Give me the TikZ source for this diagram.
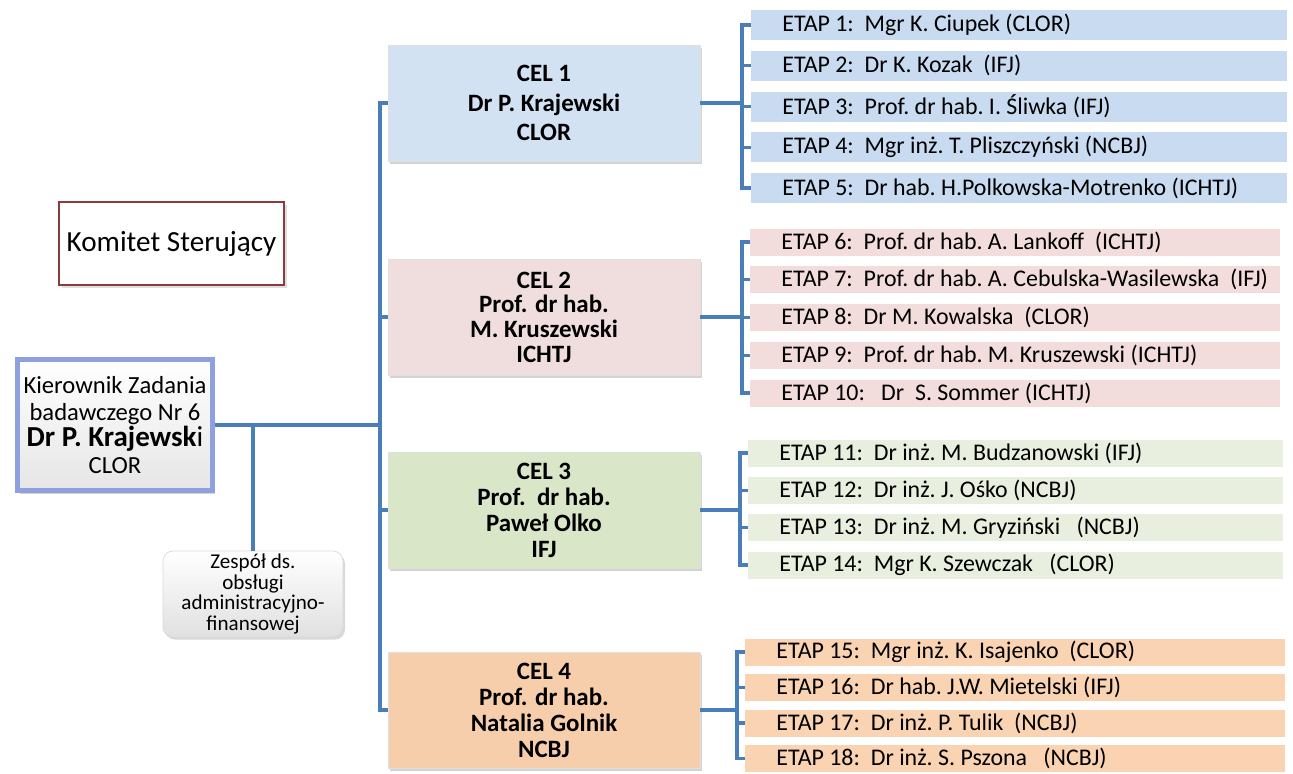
\documentclass[tikz,border=0pt]{standalone}
\usepackage{fontspec}
\setmainfont{Carlito}
\usepackage{tikz}
\usetikzlibrary{shadows}
\definecolor{linkblue}{RGB}{74,126,187}
\definecolor{celblue}{RGB}{210,226,243}
\definecolor{celpink}{RGB}{239,222,221}
\definecolor{celgreen}{RGB}{217,230,199}
\definecolor{celorange}{RGB}{247,206,172}
\definecolor{barblue}{RGB}{200,219,240}
\definecolor{barpink}{RGB}{242,221,220}
\definecolor{bargreen}{RGB}{232,239,222}
\definecolor{barorange}{RGB}{250,211,178}
\definecolor{komred}{RGB}{140,58,62}
\definecolor{kierlav}{RGB}{142,160,224}
\newcommand{\celfont}[1]{\fontsize{14.2}{#1}\selectfont\bfseries}
\newcommand{\zespolfont}{\fontsize{12}{11.6}\selectfont}
\newcommand{\etapfont}{\fontsize{13.6}{15}\selectfont\frenchspacing}
\tikzstyle{link} = [draw, line width=2.3pt, color=linkblue]
\tikzstyle{bracket} = [draw, line width=1.8pt, color=linkblue]
\tikzstyle{celbox} = [draw=black!12, minimum width=6.24cm, minimum height=2.32cm, align=center, drop shadow={opacity=0.35,shadow xshift=0.04cm,shadow yshift=-0.06cm}]
\tikzstyle{etap} = [anchor=west, inner xsep=0.62cm, inner ysep=0pt, font=\etapfont]

\begin{document}
\begin{tikzpicture}

\useasboundingbox (0,0) rectangle (25.86,-15.46);

%%% %%%
% Kierownik, Komitet, Zespol
%%% %%%

\node[draw=komred,line width=1.5pt,fill=white,minimum width=4.5cm,minimum height=1.66cm,font=\fontsize{16.6}{18}\selectfont,drop shadow={opacity=0.25,shadow xshift=0.05cm,shadow yshift=-0.05cm}] at (3.43,-4.87) (KOMITET) {Komitet Sterujący};

\node[draw=kierlav,line width=2.6pt,top color=white,bottom color=black!10,minimum width=3.82cm,minimum height=2.62cm,align=center,font=\fontsize{14}{15.3}\selectfont,drop shadow={opacity=0.35,shadow xshift=0.05cm,shadow yshift=-0.07cm}] at (2.30,-8.50) (KIER)
{Kierownik Zadania\\badawczego Nr 6\\{\fontsize{16.5}{15.3}\selectfont\textbf{Dr P. Krajewsk}i}\\CLOR};

\node[draw=black!15,rounded corners=0.2cm,top color=white,bottom color=black!12,minimum width=3.6cm,minimum height=1.72cm,align=center,inner sep=1pt,font=\zespolfont,drop shadow={opacity=0.3,shadow xshift=0.04cm,shadow yshift=-0.05cm}] at (5.06,-11.88) (ZESPOL)
{Zespół ds.\\obsługi\\administracyjno-\\finansowej};


%%% %%%
% CEL 1-4
%%% %%%

\node[celbox,fill=celblue,font=\celfont{17}] at (10.88,-2.06) (CEL1) {CEL 1\\Dr P. Krajewski\\CLOR};
\node[celbox,fill=celpink,font=\celfont{14}] at (10.88,-6.34) (CEL2) {CEL 2\\Prof. dr hab.\\M. Kruszewski\\ICHTJ};
\node[celbox,fill=celgreen,font=\celfont{14.8}] at (10.88,-10.20) (CEL3) {CEL 3\\Prof.\ \ dr hab.\\Paweł Olko\\IFJ};
\node[celbox,fill=celorange,font=\celfont{14.8}] at (10.88,-14.20) (CEL4) {CEL 4\\Prof. dr hab.\\Natalia Golnik\\NCBJ};


%%% %%%
% ETAP 1-18
%%% %%%

\foreach \i/\who [count=\n] in
{1/Mgr K. Ciupek (CLOR),2/Dr K. Kozak\ \ (IFJ),3/Prof. dr hab. I. Śliwka (IFJ),4/Mgr inż. T. Pliszczyński (NCBJ),5/Dr hab. H.Polkowska-Motrenko (ICHTJ)}
\node[etap,fill=barblue,minimum height=0.6cm,yshift=-\n*0.815cm] at (15.02,0.315) (ETAP\i) {\makebox[9.48cm][l]{ETAP \i:\ \ \who}};

\foreach \i/\who [count=\n] in
{6/Prof. dr hab. A. Lankoff\ \ (ICHTJ),7/Prof. dr hab. A. Cebulska-Wasilewska\ \ (IFJ),8/Dr M. Kowalska\ \ (CLOR),9/Prof. dr hab. M. Kruszewski (ICHTJ),10/\ Dr\ \ S. Sommer (ICHTJ)}
\node[etap,fill=barpink,minimum height=0.54cm,yshift=-\n*0.755cm] at (15.0,-4.085) (ETAP\i) {\makebox[9.36cm][l]{ETAP \i:\ \ \who}};

\foreach \i/\who [count=\n] in
{11/Dr inż. M. Budzanowski (IFJ),12/Dr inż. J. Ośko (NCBJ),13/Dr inż. M. Gryziński\ \ \ (NCBJ),14/Mgr K. Szewczak\ \ \ (CLOR)}
\node[etap,fill=bargreen,minimum height=0.54cm,yshift=-\n*0.747cm] at (14.96,-8.313) (ETAP\i) {\makebox[9.46cm][l]{ETAP \i:\ \ \who}};

\foreach \i/\who [count=\n] in
{15/Mgr inż. K. Isajenko\ \ (CLOR),16/Dr hab. J.W. Mietelski (IFJ),17/Dr inż. P. Tulik\ \ (NCBJ),18/Dr inż. S. Pszona\ \ \ (NCBJ)}
\node[etap,fill=barorange,minimum height=0.54cm,yshift=-\n*0.71cm] at (14.90,-12.33) (ETAP\i) {\makebox[9.56cm][l]{ETAP \i:\ \ \who}};


%%%
% Connectors: trunk
%%%

\coordinate (TRUNK) at (7.6,0);

\draw [link] (CEL1.west) -- (CEL1.west -| TRUNK) -- (CEL4.west -| TRUNK) -- (CEL4.west);
\draw [link] (CEL2.west) -- (CEL2.west -| TRUNK);
\draw [link] (CEL3.west) -- (CEL3.west -| TRUNK);
\draw [link] (KIER.east) -- (KIER.east -| TRUNK);
\draw [link] (ZESPOL.north) -- (ZESPOL.north |- KIER.east);


%%%
% Connectors: brackets
%%%

\coordinate (BR1) at (14.84,0);
\coordinate (BR2) at (14.84,0);
\coordinate (BR3) at (14.80,0);
\coordinate (BR4) at (14.74,0);

\draw [link] (CEL1.east) -- (CEL1.east -| BR1);
\draw [bracket] (ETAP1.west) -- (ETAP1.west -| BR1) -- (ETAP5.west -| BR1) -- (ETAP5.west);
\foreach \k in {2,3,4} \draw [bracket] (ETAP\k.west -| BR1) -- (ETAP\k.west);

\draw [link] (CEL2.east) -- (CEL2.east -| BR2);
\draw [bracket] (ETAP6.west) -- (ETAP6.west -| BR2) -- (ETAP10.west -| BR2) -- (ETAP10.west);
\foreach \k in {7,8,9} \draw [bracket] (ETAP\k.west -| BR2) -- (ETAP\k.west);

\draw [link] (CEL3.east) -- (CEL3.east -| BR3);
\draw [bracket] (ETAP11.west) -- (ETAP11.west -| BR3) -- (ETAP14.west -| BR3) -- (ETAP14.west);
\foreach \k in {12,13} \draw [bracket] (ETAP\k.west -| BR3) -- (ETAP\k.west);

\draw [link] (CEL4.east) -- (CEL4.east -| BR4);
\draw [bracket] (ETAP15.west) -- (ETAP15.west -| BR4) -- (ETAP18.west -| BR4) -- (ETAP18.west);
\foreach \k in {16,17} \draw [bracket] (ETAP\k.west -| BR4) -- (ETAP\k.west);

\end{tikzpicture}
\end{document}
